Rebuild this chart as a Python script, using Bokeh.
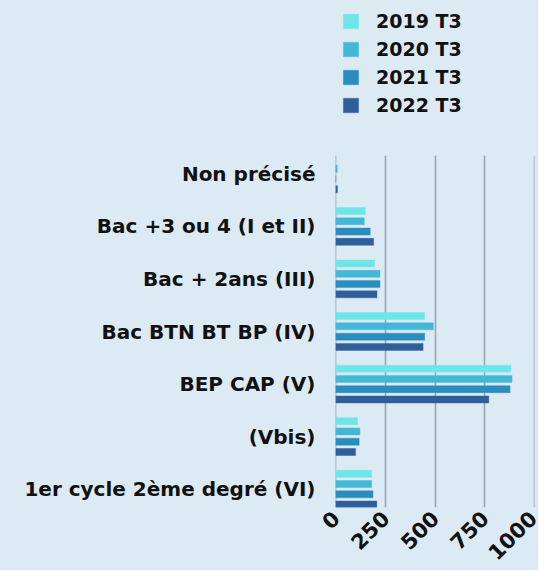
import math
from bokeh.plotting import figure
from bokeh.layouts import column
from bokeh.models import FactorRange, Legend, LegendItem, FixedTicker
from bokeh.transform import dodge
from bokeh.embed import file_html
from bokeh.resources import INLINE

categories = ["Non précisé", "Bac +3 ou 4 (I et II)", "Bac + 2ans (III)",
              "Bac BTN BT BP (IV)", "BEP CAP (V)", "(Vbis)", "1er cycle 2ème degré (VI)"]
series_names = ["2019 T3", "2020 T3", "2021 T3", "2022 T3"]
v2019 = [0, 149, 196, 448, 882, 110, 181]
v2020 = [8, 144, 223, 492, 888, 122, 181]
v2021 = [0, 174, 223, 448, 878, 118, 188]
v2022 = [9, 191, 208, 440, 771, 100, 207]
x_ticks = [0, 250, 500, 750, 1000]

colors = ["#6ee6e8", "#42b8d6", "#2b8cbe", "#2e5f99"]
bg = "#dbeaf3"
font = "DejaVu Sans"
W = 538
keys = ["v2019", "v2020", "v2021", "v2022"]

data = dict(cat=categories, v2019=v2019, v2020=v2020, v2021=v2021, v2022=v2022)

# ---- legend strip on top ----
lp = figure(width=W, height=155, output_backend="svg", toolbar_location=None,
            x_range=(0, 1000), y_range=FactorRange(factors=categories))
lp.background_fill_color = None
lp.border_fill_color = bg
lp.outline_line_color = None
lp.axis.visible = False
lp.grid.visible = False
lp.min_border = 0
leg_renderers = []
for key, col in zip(keys, colors):
    r = lp.hbar(y="cat", right=key, height=0.5, source=data, fill_color=col,
                line_color=col, line_alpha=0.4, visible=False)
    leg_renderers.append(r)
legend = Legend(items=[LegendItem(label=n, renderers=[r]) for n, r in zip(series_names, leg_renderers)],
                location=(6, 39), orientation="vertical")
legend.background_fill_alpha = 0
legend.border_line_color = None
legend.label_text_font = font
legend.label_text_font_style = "bold"
legend.label_text_font_size = "19px"
legend.label_text_color = "#111111"
legend.glyph_width = 19
legend.glyph_height = 18
legend.label_standoff = 16
legend.spacing = 6
legend.padding = 0
legend.margin = 0
lp.add_layout(legend, "center")

# ---- main chart ----
p = figure(width=W, height=415, output_backend="svg", toolbar_location=None,
           y_range=FactorRange(factors=list(reversed(categories)), range_padding=-0.043),
           x_range=(-1, 1001))
p.background_fill_color = None
p.border_fill_color = bg
p.outline_line_color = None
p.min_border_left = 335
p.min_border_right = 4
p.min_border_top = 0
p.min_border_bottom = 0

offsets = [0.293, 0.098, -0.098, -0.293]
for key, off, col in zip(keys, offsets, colors):
    p.hbar(y=dodge("cat", off, range=p.y_range), right=key, left=0, height=0.133,
           source=data, fill_color=col, line_color=col, line_alpha=0.4)

p.ygrid.grid_line_color = None
p.xgrid.grid_line_color = "#9aa6b0"
p.xgrid.grid_line_width = 1.6
p.xaxis.ticker = FixedTicker(ticks=x_ticks)
p.xaxis.axis_line_color = None
p.xaxis.major_tick_line_color = None
p.xaxis.minor_tick_line_color = None
p.xaxis.major_label_orientation = math.pi / 4
p.xaxis.major_label_text_font = font
p.xaxis.major_label_text_font_style = "bold"
p.xaxis.major_label_text_font_size = "21px"
p.xaxis.major_label_text_color = "#111111"
p.xaxis.major_label_standoff = 1

p.yaxis.axis_line_color = None
p.yaxis.major_tick_line_color = None
p.yaxis.minor_tick_line_color = None
p.yaxis.major_label_text_font = font
p.yaxis.major_label_text_font_style = "bold"
p.yaxis.major_label_text_font_size = "20px"
p.yaxis.major_label_text_color = "#111111"
p.yaxis.major_label_standoff = 14

layout = column(lp, p, spacing=0, styles={"background-color": bg})
open("out.html", "w").write(file_html(layout, INLINE))
